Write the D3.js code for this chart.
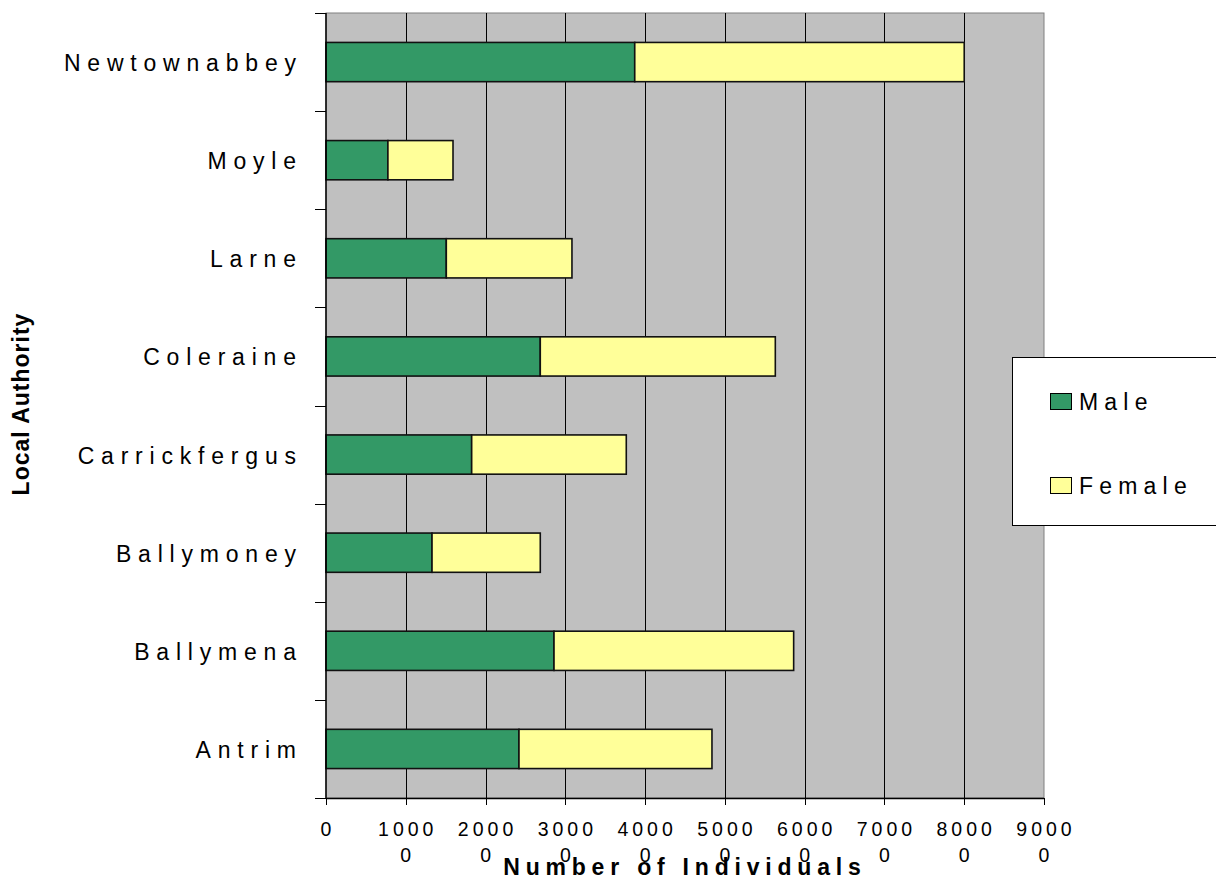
<!DOCTYPE html>
<html>
<head>
<meta charset="utf-8">
<script src="https://cdn.jsdelivr.net/npm/d3@7"></script>
<style>
  html, body { margin: 0; padding: 0; background: #ffffff; }
  svg { display: block; }
  text { font-family: "Liberation Sans", Arial, sans-serif; fill: #000; }
</style>
</head>
<body>
<svg id="chart" width="1216" height="877"></svg>
<script>
// Local authorities, bottom to top as listed on the axis
const categories = ["Antrim", "Ballymena", "Ballymoney", "Carrickfergus", "Coleraine", "Larne", "Moyle", "Newtownabbey"];
const maleValues = [24190, 28580, 13290, 18260, 26860, 15080, 7760, 38700];
const femaleValues = [24190, 30040, 13570, 19380, 29460, 15750, 8160, 41300];
const seriesNames = ["Male", "Female"];
const seriesColors = ["#339966", "#FFFF99"];
const tickValues = [0, 10000, 20000, 30000, 40000, 50000, 60000, 70000, 80000, 90000];

const svg = d3.select("#chart");
const plot = { left: 326, right: 1044, top: 13, bottom: 798 };

const x = d3.scaleLinear().domain([0, 90000]).range([plot.left, plot.right]);
// top of the axis shows the last category
const y = d3.scaleBand()
  .domain(categories.slice().reverse())
  .range([plot.top, plot.bottom])
  .paddingInner(0.6)
  .paddingOuter(0.3);

// plot area background
svg.append("rect")
  .attr("x", plot.left).attr("y", plot.top)
  .attr("width", plot.right - plot.left).attr("height", plot.bottom - plot.top)
  .attr("fill", "#C0C0C0")
  .attr("stroke", "#808080").attr("stroke-width", 1);

// vertical gridlines
svg.append("g")
  .selectAll("line")
  .data(tickValues.filter(d => d > 0 && d < 90000))
  .join("line")
  .attr("x1", d => Math.round(x(d)) + 0.5).attr("x2", d => Math.round(x(d)) + 0.5)
  .attr("y1", plot.top).attr("y2", plot.bottom)
  .attr("stroke", "#000").attr("stroke-width", 1);

// stacked bars
const stackData = categories.map((c, i) => ({ cat: c, Male: maleValues[i], Female: femaleValues[i] }));
const stacked = d3.stack().keys(seriesNames)(stackData);

svg.append("g")
  .selectAll("g")
  .data(stacked)
  .join("g")
  .attr("fill", (d, i) => seriesColors[i])
  .selectAll("rect")
  .data(d => d)
  .join("rect")
  .attr("x", d => x(d[0]))
  .attr("width", d => x(d[1]) - x(d[0]))
  .attr("y", d => y(d.data.cat))
  .attr("height", y.bandwidth())
  .attr("stroke", "#111")
  .attr("stroke-width", 1.6);

// category axis (left)
const step = y.step();
const boundaries = d3.range(categories.length + 1).map(i => plot.top + i * step);
svg.append("line")
  .attr("x1", plot.left).attr("x2", plot.left)
  .attr("y1", plot.top).attr("y2", plot.bottom)
  .attr("stroke", "#000").attr("stroke-width", 1.5);
svg.append("g")
  .selectAll("line")
  .data(boundaries)
  .join("line")
  .attr("x1", plot.left - 11).attr("x2", plot.left)
  .attr("y1", d => Math.round(d) + 0.5).attr("y2", d => Math.round(d) + 0.5)
  .attr("stroke", "#000").attr("stroke-width", 1);

const catSpacing = 6.8;
svg.append("g")
  .selectAll("text")
  .data(categories)
  .join("text")
  .attr("x", 296 + catSpacing)
  .attr("y", d => y(d) + y.bandwidth() / 2 + 9)
  .attr("text-anchor", "end")
  .style("font-size", "23px")
  .style("letter-spacing", catSpacing + "px")
  .text(d => d);

// value axis (bottom)
svg.append("line")
  .attr("x1", plot.left).attr("x2", plot.right)
  .attr("y1", plot.bottom + 0.5).attr("y2", plot.bottom + 0.5)
  .attr("stroke", "#000").attr("stroke-width", 1.5);
svg.append("g")
  .selectAll("line")
  .data(tickValues)
  .join("line")
  .attr("x1", d => Math.round(x(d)) + 0.5).attr("x2", d => Math.round(x(d)) + 0.5)
  .attr("y1", plot.bottom).attr("y2", plot.bottom + 7)
  .attr("stroke", "#000").attr("stroke-width", 1);

const tickSpacing = 4;
const tickText = svg.append("g")
  .selectAll("text")
  .data(tickValues)
  .join("text")
  .attr("text-anchor", "middle")
  .style("font-size", "19.5px")
  .style("letter-spacing", tickSpacing + "px");
// long labels wrap after four characters
tickText.each(function (d) {
  const s = String(d);
  const lines = s.length > 4 ? [s.slice(0, 4), s.slice(4)] : [s];
  const t = d3.select(this);
  lines.forEach((ln, i) => {
    t.append("tspan")
      .attr("x", x(d) + tickSpacing / 2)
      .attr("y", 836 + i * 26)
      .text(ln);
  });
});

// axis titles
svg.append("text")
  .attr("x", 682 + 2.9)
  .attr("y", 875)
  .attr("text-anchor", "middle")
  .style("font-size", "23px")
  .style("font-weight", "bold")
  .style("letter-spacing", "5.8px")
  .text("Number of Individuals");

svg.append("text")
  .attr("transform", "translate(29,404) rotate(-90)")
  .attr("text-anchor", "middle")
  .style("font-size", "23px")
  .style("font-weight", "bold")
  .style("letter-spacing", "1px")
  .text("Local Authority");

// legend
const legend = svg.append("g");
legend.append("rect")
  .attr("x", 1012.5).attr("y", 357.5)
  .attr("width", 260).attr("height", 168)
  .attr("fill", "#fff")
  .attr("stroke", "#000").attr("stroke-width", 1);
const legendRows = [410, 494];
seriesNames.forEach((name, i) => {
  legend.append("rect")
    .attr("x", 1050.5).attr("y", legendRows[i] - 16.5)
    .attr("width", 21).attr("height", 16)
    .attr("fill", seriesColors[i])
    .attr("stroke", "#000").attr("stroke-width", 1);
  legend.append("text")
    .attr("x", 1079)
    .attr("y", legendRows[i])
    .style("font-size", "23px")
    .style("letter-spacing", "6.2px")
    .text(name);
});
</script>
</body>
</html>
